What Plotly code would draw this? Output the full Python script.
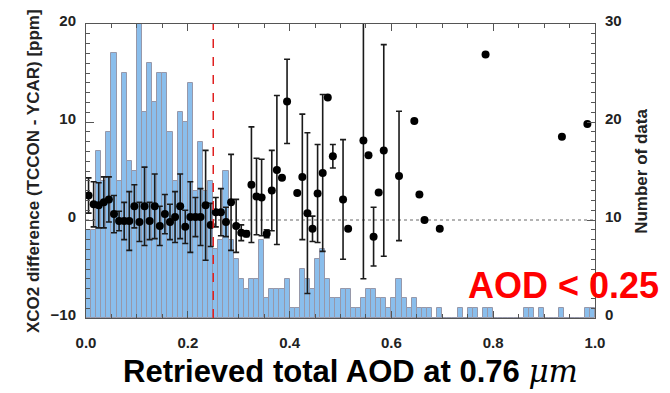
import plotly.graph_objects as go

# ---------------- data ----------------
# histogram: number of data per AOD bin (bin width 0.01, bins 0.00-0.01 ... 0.99-1.00)
bin_width = 0.01
hist_counts = [
    9, 9, 17, 14, 19, 27, 14, 25, 16, 15,
    31, 21, 26, 22, 25, 25, 19, 14, 21, 20,
    24, 13, 18, 13, 14, 7, 8, 15, 8, 6,
    4, 3, 4, 4, 8, 2, 3, 3, 3, 4,
    1, 1, 5, 4, 3, 6, 7, 4, 2, 2,
    3, 3, 1, 1, 2, 3, 3, 2, 2, 1,
    2, 4, 2, 1, 2, 1, 1, 1, 0, 1,
    0, 0, 0, 1, 0, 1, 1, 0, 1, 1,
    0, 0, 0, 0, 0, 0, 1, 1, 0, 1,
    0, 0, 0, 1, 0, 0, 0, 0, 1, 1,
]
hist_x = [round((i + 0.5) * bin_width, 3) for i in range(len(hist_counts))]

# XCO2 difference (TCCON - YCAR) per bin: bin index, mean, std (None = no error bar)
pt_bins = [0, 1, 2, 3, 4, 5, 6, 7, 8, 9,
           10, 11, 12, 13, 14, 15, 16, 17, 18, 19,
           20, 21, 22, 23, 24, 25, 26, 27, 28, 29,
           30, 31, 32, 33, 34, 35, 36, 37, 38, 39,
           41, 42, 43, 44, 45, 46, 47, 48, 50, 51,
           54, 55, 56, 57, 58, 61, 64, 65, 66, 69,
           78, 93, 98]
pt_diff = [2.5, 1.6, 1.5, 1.8, 2.1, 0.6, -0.1, -0.1, -0.1, 1.4,
           -0.2, 1.4, -0.1, 1.4, -0.6, 0.6, -0.2, 0.3, 1.4, -0.7,
           0.3, 0.3, 0.3, 1.5, -0.5, 0.8, 0.8, -0.2, 1.8, -0.6,
           -1.3, -1.4, 3.6, 2.4, 2.3, -1.4, 3.0, 5.1, 4.3, 12.1,
           2.75, 4.4, 0.7, -0.9, 2.7, 4.8, 12.5, 6.5, 2.1, -0.9,
           8.1, 6.6, -1.7, 2.8, 7.1, 4.5, 10.1, 2.6, 0.0, -0.9,
           16.9, 8.5, 9.8]
pt_err = [1.8, 2.3, 2.3, 2.6, 2.3, 1.9, 1.0, 1.9, 3.0, 2.2,
          2.0, 4.0, 1.9, 3.3, 2.0, 2.0, 1.8, 2.6, 3.3, 1.7,
          3.6, 2.0, 2.9, 5.6, 2.2, 1.5, 2.4, 1.5, 4.9, 2.7,
          0.8, 0.3, 5.9, 3.9, 3.9, 0.4, 4.1, 7.6, None, 4.3,
          None, 6.4, 8.2, 1.3, 5.0, 8.0, None, 1.2, 6.1, None,
          14.1, None, 3.0, None, 10.8, 6.6, None, None, None, None,
          None, None, None]
pt_x = [round((b + 0.5) * bin_width, 3) for b in pt_bins]

aod_threshold = 0.25
x_ticks = [0.0, 0.2, 0.4, 0.6, 0.8, 1.0]
diff_ticks = [-10, 0, 10, 20]
count_ticks = [0, 10, 20, 30]

x_title = ("Retrieved total AOD at 0.76 "
           "<span style=\"font-family:'DejaVu Serif';font-style:italic;font-weight:normal\">μm</span>")
left_title = "XCO2 difference (TCCON - YCAR) [ppm]"
right_title = "Number of data"
note_text = "AOD &lt; 0.25"

# ---------------- figure ----------------
FONT = "Liberation Sans, Arial, sans-serif"
AXC = "#555555"
TXT = "#222222"

fig = go.Figure()

fig.add_trace(go.Bar(
    x=hist_x, y=hist_counts, width=bin_width,
    marker=dict(color="rgb(138,190,236)", line=dict(color="rgb(150,152,170)", width=1)),
    yaxis="y", showlegend=False, hoverinfo="skip",
))

fig.add_trace(go.Scatter(
    x=pt_x, y=pt_diff, mode="markers", yaxis="y2",
    marker=dict(color="black", size=8),
    error_y=dict(type="data", array=pt_err, visible=True, color="#1a1a1a", thickness=1.6, width=3),
    showlegend=False,
))

tickfont = dict(family=FONT, size=15, color=TXT, weight="bold")
titlefont = dict(family=FONT, size=17, color=TXT, weight="bold")

fig.update_layout(
    width=670, height=393,
    margin=dict(l=86, r=75, t=17, b=75),
    paper_bgcolor="white", plot_bgcolor="white",
    bargap=0,
    xaxis=dict(
        range=[0, 1], tickvals=x_ticks, tickformat=".1f",
        ticks="inside", ticklen=7, tickcolor=AXC, tickwidth=1,
        minor=dict(dtick=0.05, ticks="inside", ticklen=4, tickcolor=AXC),
        showline=True, linecolor=AXC, linewidth=1, mirror="ticks",
        showgrid=False, zeroline=False, tickfont=tickfont,
        ticklabelstandoff=11,
    ),
    yaxis=dict(  # counts (right)
        range=[0, 30], side="right", tickvals=count_ticks,
        ticks="inside", ticklen=8, tickcolor=AXC,
        minor=dict(dtick=1, ticks="inside", ticklen=4, tickcolor=AXC),
        showline=True, linecolor=AXC, linewidth=1,
        showgrid=False, zeroline=False, tickfont=tickfont,
        ticklabelstandoff=6, ticklabelshift=-3,
    ),
    yaxis2=dict(  # XCO2 difference (left)
        range=[-10, 20], side="left", overlaying="y", tickvals=diff_ticks,
        ticks="inside", ticklen=8, tickcolor=AXC,
        minor=dict(dtick=1, ticks="inside", ticklen=4, tickcolor=AXC),
        showline=True, linecolor=AXC, linewidth=1,
        showgrid=False, zeroline=False, tickfont=tickfont,
        ticklabelstandoff=6, ticklabelshift=-3,
    ),
    shapes=[
        dict(type="line", xref="x", yref="y2", x0=0, x1=1, y0=0, y1=0,
             line=dict(color="#9a9a9a", width=1.5, dash="dot"), layer="below"),
        dict(type="line", xref="x", yref="paper", x0=aod_threshold, x1=aod_threshold, y0=0, y1=1,
             line=dict(color="#e02020", width=1.5, dash="dash"), layer="above"),
    ],
    annotations=[
        dict(text=x_title, xref="paper", yref="paper", x=0.519, y=-0.179,
             xanchor="center", yanchor="middle", showarrow=False,
             font=dict(family=FONT, size=31, color="black", weight="bold")),
        dict(text=left_title, xref="paper", yref="paper", x=-0.104, y=0.5,
             xanchor="center", yanchor="middle", showarrow=False, textangle=-90,
             font=titlefont),
        dict(text=right_title, xref="paper", yref="paper", x=1.09, y=0.5,
             xanchor="center", yanchor="middle", showarrow=False, textangle=-90,
             font=titlefont),
        dict(text=note_text, xref="paper", yref="paper", x=0.939, y=0.11,
             xanchor="center", yanchor="middle", showarrow=False,
             font=dict(family=FONT, size=36, color="#ff0000", weight="bold")),
    ],
)

fig.write_html("out.html")
